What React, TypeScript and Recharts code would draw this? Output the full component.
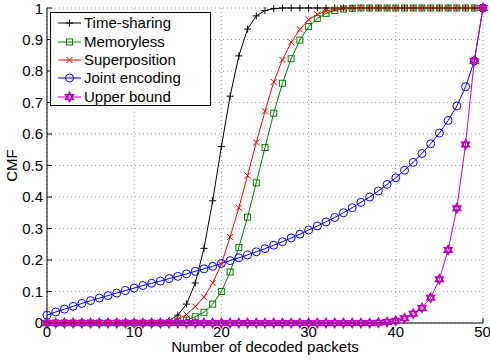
import React from "react"
import { LineChart, Line, XAxis, YAxis, CartesianGrid, Legend, Label } from "recharts"

const packets = [
  0, 1, 2, 3, 4, 5, 6, 7, 8, 9, 10, 11, 12, 13, 14, 15, 16, 17, 18, 19, 20, 21, 22, 23, 24, 25,
  26, 27, 28, 29, 30, 31, 32, 33, 34, 35, 36, 37, 38, 39, 40, 41, 42, 43, 44, 45, 46, 47, 48, 49, 50,
]

const timeSharing = [
  0, 0, 0, 0, 0, 0, 0, 0, 0, 0,
  0, 0, 0, 0.002, 0.008, 0.025, 0.06, 0.127, 0.237, 0.388,
  0.56, 0.72, 0.848, 0.933, 0.975, 0.992, 0.998, 1, 1, 1,
  1, 1, 1, 1, 1, 1, 1, 1, 1, 1,
  1, 1, 1, 1, 1, 1, 1, 1, 1, 1,
  1,
]

const memoryless = [
  0, 0, 0, 0, 0, 0, 0, 0, 0, 0,
  0, 0, 0, 0, 0.001, 0.004, 0.009, 0.02, 0.034, 0.06,
  0.1, 0.162, 0.24, 0.336, 0.445, 0.557, 0.666, 0.761, 0.839, 0.898,
  0.941, 0.967, 0.983, 0.992, 0.997, 0.999, 1, 1, 1, 1,
  1, 1, 1, 1, 1, 1, 1, 1, 1, 1,
  1,
]

const superposition = [
  0, 0, 0, 0, 0, 0, 0, 0, 0, 0,
  0, 0, 0, 0.001, 0.004, 0.012, 0.027, 0.052, 0.082, 0.127,
  0.187, 0.273, 0.366, 0.468, 0.573, 0.672, 0.765, 0.835, 0.891, 0.932,
  0.963, 0.98, 0.99, 0.996, 0.999, 1, 1, 1, 1, 1,
  1, 1, 1, 1, 1, 1, 1, 1, 1, 1,
  1,
]

const jointEncoding = [
  0.025, 0.035, 0.044, 0.053, 0.062, 0.071, 0.079, 0.087, 0.095, 0.103,
  0.111, 0.119, 0.126, 0.133, 0.141, 0.148, 0.156, 0.164, 0.172, 0.18,
  0.189, 0.198, 0.207, 0.216, 0.226, 0.236, 0.247, 0.258, 0.27, 0.282,
  0.295, 0.308, 0.321, 0.335, 0.35, 0.366, 0.383, 0.4, 0.419, 0.44,
  0.461, 0.485, 0.51, 0.538, 0.569, 0.603, 0.643, 0.689, 0.75, 0.832,
  1,
]

const upperBound = [
  0, 0, 0, 0, 0, 0, 0, 0, 0, 0,
  0, 0, 0, 0, 0, 0, 0, 0, 0, 0,
  0, 0, 0, 0, 0, 0, 0, 0, 0, 0,
  0, 0, 0, 0, 0, 0, 0, 0, 0.001, 0.003,
  0.007, 0.015, 0.029, 0.048, 0.08, 0.139, 0.232, 0.364, 0.567, 0.832,
  1,
]

const xTicks = [0, 10, 20, 30, 40, 50]
const yTicks = [0, 0.1, 0.2, 0.3, 0.4, 0.5, 0.6, 0.7, 0.8, 0.9, 1]

const data = packets.map((n, i) => ({
  n,
  timeSharing: timeSharing[i],
  memoryless: memoryless[i],
  superposition: superposition[i],
  jointEncoding: jointEncoding[i],
  upperBound: upperBound[i],
}))

const FONT = '"Liberation Sans", Arial, sans-serif'

type Shape = "plus" | "square" | "cross" | "circle" | "hexagram"

function marker(shape: Shape, cx: number, cy: number, color: string, key?: string) {
  if (shape === "plus") {
    return (
      <g key={key}>
        <line x1={cx - 3.5} y1={cy} x2={cx + 3.5} y2={cy} stroke={color} strokeWidth={1} />
        <line x1={cx} y1={cy - 3.5} x2={cx} y2={cy + 3.5} stroke={color} strokeWidth={1} />
      </g>
    )
  }
  if (shape === "cross") {
    return (
      <g key={key}>
        <line x1={cx - 3} y1={cy - 3} x2={cx + 3} y2={cy + 3} stroke={color} strokeWidth={1} />
        <line x1={cx - 3} y1={cy + 3} x2={cx + 3} y2={cy - 3} stroke={color} strokeWidth={1} />
      </g>
    )
  }
  if (shape === "square") {
    return <rect key={key} x={cx - 3} y={cy - 3} width={6} height={6} fill="none" stroke={color} strokeWidth={1} />
  }
  if (shape === "circle") {
    return <circle key={key} cx={cx} cy={cy} r={4} fill="none" stroke={color} strokeWidth={1} />
  }
  const r = 4.5
  const tri = (rot: number) =>
    [0, 1, 2]
      .map((k) => {
        const a = rot + (k * 2 * Math.PI) / 3
        return `${cx + r * Math.sin(a)},${cy - r * Math.cos(a)}`
      })
      .join(" ")
  return (
    <g key={key}>
      <polygon points={tri(0)} fill="none" stroke={color} strokeWidth={1.5} />
      <polygon points={tri(Math.PI)} fill="none" stroke={color} strokeWidth={1.5} />
    </g>
  )
}

const series: { key: string; name: string; color: string; shape: Shape }[] = [
  { key: "timeSharing", name: "Time-sharing", color: "#000000", shape: "plus" },
  { key: "memoryless", name: "Memoryless", color: "#008000", shape: "square" },
  { key: "superposition", name: "Superposition", color: "#ff0000", shape: "cross" },
  { key: "jointEncoding", name: "Joint encoding", color: "#0000ff", shape: "circle" },
  { key: "upperBound", name: "Upper bound", color: "#c000c0", shape: "hexagram" },
]

function LegendBox() {
  return (
    <div
      style={{
        width: 161,
        height: 94,
        boxSizing: "border-box",
        border: "1px solid #000",
        background: "#fff",
        paddingTop: 1,
        fontFamily: FONT,
        fontSize: 15,
        color: "#000",
      }}
    >
      {series.map((s) => (
        <div key={s.key} style={{ height: 18.35, display: "flex", alignItems: "center" }}>
          <svg width={32} height={12} style={{ marginLeft: 1 }}>
            <line x1={6} y1={6} x2={29} y2={6} stroke={s.color} strokeWidth={1} />
            {marker(s.shape, 17.5, 6, s.color)}
          </svg>
          <span style={{ lineHeight: "18px" }}>{s.name}</span>
        </div>
      ))}
    </div>
  )
}

export default function App() {
  const axisText = { fontFamily: FONT, fontSize: 15, fill: "#000" }
  return (
    <div style={{ position: "absolute", left: 0, top: 0, background: "#fff" }}>
      <LineChart width={490} height={361} data={data} margin={{ top: 8, right: 7, bottom: 0, left: 0 }}>
        <CartesianGrid stroke="#a0a0a0" strokeDasharray="1 3" />
        <XAxis
          dataKey="n"
          type="number"
          domain={[0, 50]}
          ticks={xTicks}
          height={38}
          tickSize={-5}
          tickMargin={8}
          tick={axisText}
          axisLine={{ stroke: "#000" }}
          tickLine={{ stroke: "#000" }}
        >
          <Label
            value="Number of decoded packets"
            position="insideBottom"
            offset={9}
            style={{ fontFamily: FONT, fontSize: 15, fill: "#000" }}
          />
        </XAxis>
        <XAxis
          xAxisId="top"
          orientation="top"
          type="number"
          domain={[0, 50]}
          ticks={xTicks}
          height={0}
          tickSize={-5}
          tick={false}
          allowDataOverflow
          axisLine={{ stroke: "#000" }}
          tickLine={{ stroke: "#000" }}
        />
        <YAxis
          type="number"
          domain={[0, 1]}
          ticks={yTicks}
          width={47}
          tickSize={-5}
          tickMargin={9}
          tick={axisText}
          axisLine={{ stroke: "#000" }}
          tickLine={{ stroke: "#000" }}
        >
          <Label
            content={(props: any) => {
              const vb = props.viewBox || { x: 0, y: 8, width: 47, height: 315 }
              const x = vb.x + 11
              const y = vb.y + vb.height / 2
              return (
                <text
                  x={x}
                  y={y}
                  transform={`rotate(-90, ${x}, ${y})`}
                  textAnchor="middle"
                  dominantBaseline="central"
                  style={{ fontFamily: FONT, fontSize: 15, fill: "#000" }}
                >
                  CMF
                </text>
              )
            }}
          />
        </YAxis>
        <YAxis
          yAxisId="right"
          orientation="right"
          type="number"
          domain={[0, 1]}
          ticks={yTicks}
          width={0}
          tickSize={-5}
          tick={false}
          allowDataOverflow
          axisLine={{ stroke: "#000" }}
          tickLine={{ stroke: "#000" }}
        />
        {series.map((s) => (
          <Line
            key={s.key}
            dataKey={s.key}
            name={s.name}
            type="linear"
            stroke={s.color}
            strokeWidth={1}
            isAnimationActive={false}
            activeDot={false}
            dot={(p: any) => marker(s.shape, p.cx, p.cy, s.color, `${s.key}-${p.index}`)}
          />
        ))}
        <Legend
          layout="vertical"
          align="center"
          verticalAlign="middle"
          wrapperStyle={{ left: 50, top: 12, width: 161 }}
          content={() => <LegendBox />}
        />
      </LineChart>
    </div>
  )
}
